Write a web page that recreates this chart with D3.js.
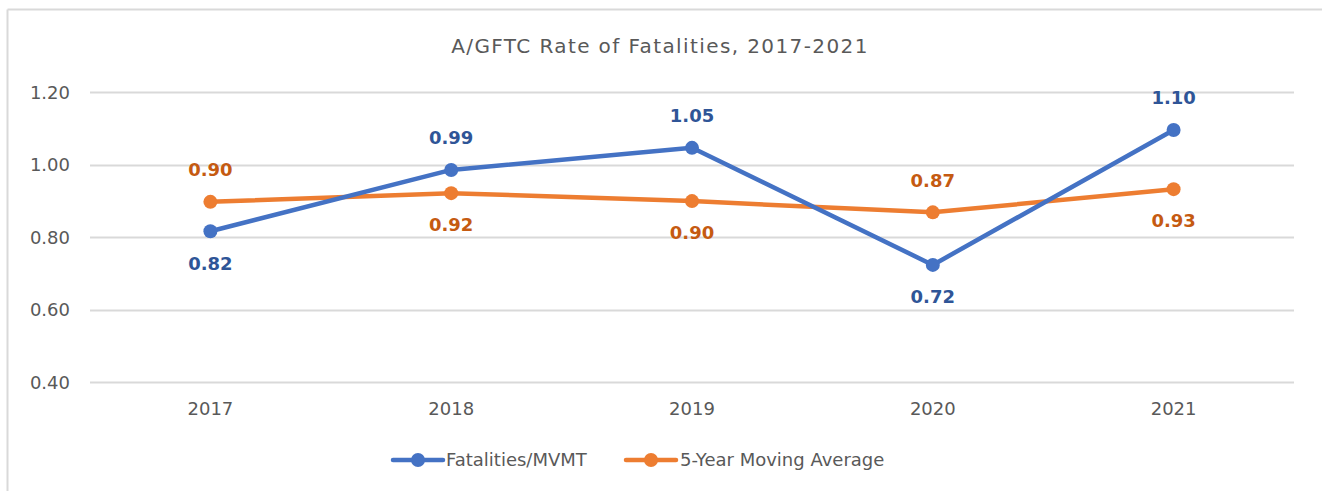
<!DOCTYPE html>
<html>
<head>
<meta charset="utf-8">
<script src="https://cdn.jsdelivr.net/npm/d3@7"></script>
<style>
  html, body { margin: 0; padding: 0; background: #fff; }
  svg { display: block; }
  text { font-family: "DejaVu Sans", sans-serif; }
</style>
</head>
<body>
<div id="chart"></div>
<script>
const title = "A/GFTC Rate of Fatalities, 2017-2021";
const years = ["2017", "2018", "2019", "2020", "2021"];
const fatalities = [0.816, 0.985, 1.046, 0.723, 1.095];
const fatalitiesLabels = ["0.82", "0.99", "1.05", "0.72", "1.10"];
const fatalitiesLabelPos = ["below", "above", "above", "below", "above"];
const movingAvg = [0.897, 0.921, 0.899, 0.868, 0.932];
const movingAvgLabels = ["0.90", "0.92", "0.90", "0.87", "0.93"];
const movingAvgLabelPos = ["above", "below", "below", "above", "below"];
const yTicks = [0.4, 0.6, 0.8, 1.0, 1.2];
const seriesNames = ["Fatalities/MVMT", "5-Year Moving Average"];

const W = 1322, H = 491;
const FONT = "'DejaVu Sans', sans-serif";
const svg = d3.select("#chart").append("svg").attr("width", W).attr("height", H);

// frame (only top and left visible)
svg.append("line").attr("x1", 7.5).attr("x2", W).attr("y1", 9.5).attr("y2", 9.5)
  .attr("stroke", "#d9d9d9").attr("stroke-width", 2);
svg.append("line").attr("x1", 7.5).attr("x2", 7.5).attr("y1", 9.5).attr("y2", H)
  .attr("stroke", "#d9d9d9").attr("stroke-width", 2);

svg.append("text").attr("x", 660).attr("y", 46).attr("dy", "0.35em").attr("text-anchor", "middle")
  .attr("font-size", 20).attr("letter-spacing", 1.4).attr("fill", "#595959").text(title);

const x = d3.scaleBand().domain(years).range([90, 1294]);
const y = d3.scaleLinear().domain([0.4, 1.2]).range([382, 92]);

// gridlines
svg.append("g").selectAll("line").data(yTicks).join("line")
  .attr("x1", 90).attr("x2", 1294)
  .attr("y1", d => Math.round(y(d)) + 0.5).attr("y2", d => Math.round(y(d)) + 0.5)
  .attr("stroke", "#d9d9d9").attr("stroke-width", 2);

// y axis labels
const yAxis = d3.axisLeft(y).tickValues(yTicks).tickFormat(d3.format(".2f")).tickSize(0).tickPadding(0);
const gy = svg.append("g").attr("transform", "translate(70,0)").call(yAxis);
gy.select(".domain").remove();
gy.selectAll("text").attr("font-size", 18).attr("fill", "#595959")
  .style("font-family", FONT).attr("dy", "0.35em");

// x axis labels
const xAxis = d3.axisBottom(x).tickSize(0).tickPadding(0);
const gx = svg.append("g").attr("transform", "translate(0,409)").call(xAxis);
gx.select(".domain").remove();
gx.selectAll("text").attr("font-size", 18).attr("fill", "#595959")
  .style("font-family", FONT).attr("dy", "0.35em");

const cx = d => x(d) + x.bandwidth() / 2;
const series = [
  { name: seriesNames[0], values: fatalities, labels: fatalitiesLabels, pos: fatalitiesLabelPos, color: "#4472C4", labelColor: "#2F5597" },
  { name: seriesNames[1], values: movingAvg, labels: movingAvgLabels, pos: movingAvgLabelPos, color: "#ED7D31", labelColor: "#C55A11" }
];

const line = d3.line().x((d, i) => cx(years[i])).y(d => y(d));

[series[1], series[0]].forEach(s => {
  svg.append("path").datum(s.values).attr("d", line)
    .attr("fill", "none").attr("stroke", s.color).attr("stroke-width", 4.5)
    .attr("stroke-linejoin", "round").attr("stroke-linecap", "round");
  svg.append("g").selectAll("circle").data(s.values).join("circle")
    .attr("cx", (d, i) => cx(years[i])).attr("cy", d => y(d)).attr("r", 7)
    .attr("fill", s.color);
});
series.forEach(s => {
  svg.append("g").selectAll("text").data(s.values).join("text")
    .attr("x", (d, i) => cx(years[i]))
    .attr("y", (d, i) => y(d) + (s.pos[i] === "above" ? -32 : 32))
    .attr("dy", "0.35em")
    .attr("text-anchor", "middle").attr("font-size", 18).attr("font-weight", "bold")
    .attr("fill", s.labelColor).text((d, i) => s.labels[i]);
});

// legend
const legendItems = [
  { s: series[0], x0: 393, tx: 446 },
  { s: series[1], x0: 626, tx: 680 }
];
legendItems.forEach(it => {
  const g = svg.append("g");
  g.append("line").attr("x1", it.x0).attr("x2", it.x0 + 50).attr("y1", 460).attr("y2", 460)
    .attr("stroke", it.s.color).attr("stroke-width", 4.5).attr("stroke-linecap", "round");
  g.append("circle").attr("cx", it.x0 + 25).attr("cy", 460).attr("r", 7).attr("fill", it.s.color);
  g.append("text").attr("x", it.tx).attr("y", 460).attr("dy", "0.35em")
    .attr("font-size", 18).attr("fill", "#595959").text(it.s.name);
});
</script>
</body>
</html>
